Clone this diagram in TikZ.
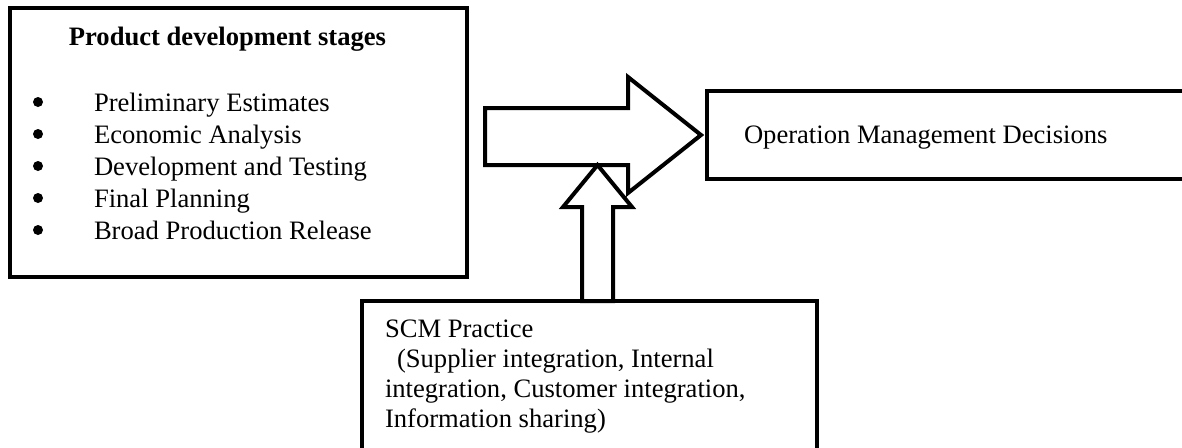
\documentclass[tikz,border=0pt]{standalone}
\usepackage{fontspec}
\setmainfont{Liberation Serif}
\usetikzlibrary{positioning}

\begin{document}
\begin{tikzpicture}[x=0.5pt,y=-0.5pt,line width=2pt,line join=miter,
  font=\fontsize{13.3}{16}\selectfont,
  box/.style={draw,rectangle,inner sep=0pt},
  txt/.style={anchor=base west,inner sep=0pt},
  bullet/.style={circle,fill,inner sep=0pt,minimum size=5pt},
  blockarrow/.style={draw,fill=white,line width=2pt}]
\useasboundingbox (0,0) rectangle (1182,447);
\clip (0,0) rectangle (1182,447);
% boxes
\node[box,minimum width=228.5pt,minimum height=134.5pt] (stages) at (238.5,142.5) {};
\node[box,minimum width=246.5pt,minimum height=44pt] (decisions) at (953.5,135) {};
\node[box,minimum width=227.5pt,minimum height=84.5pt] (scm) at (589.5,385.5) {};
% left box text
\node[anchor=base,inner sep=0pt,font=\fontsize{13.3}{16}\selectfont\bfseries] (title) at (227.5,45) {Product development stages};
\foreach \item [count=\i] in {Preliminary Estimates,Economic Analysis,Development and Testing,Final Planning,Broad Production Release}{
  \node[bullet] (dot\i) at (38,{70+32*\i}) {};
  \node[txt] (item\i) at (92,{79+32*\i}) {\item};
}
% right box text
\node[txt] (decisionstxt) at (742,143) {Operation Management Decisions};
% bottom box text
\node[txt] (scm1) at (383,337) {SCM Practice};
\node[txt] (scm2) at (395,367) {(Supplier integration, Internal};
\node[txt] (scm3) at (383,397) {integration, Customer integration,};
\node[txt] (scm4) at (383,427) {Information sharing)};
% block arrows
\coordinate (bigtail) at (485,136.5);
\coordinate (bigtip) at ([xshift=-2pt]decisions.west);
\draw[blockarrow] (bigtail) ++(0,-28.5) -- ++(143,0) -- ++(0,-31) -- (bigtip)
  -- (628,193) -- (628,165) -- (485,165) -- cycle;
\coordinate (smalltail) at (597.5,301);
\coordinate (smalltip) at (597.5,165);
\draw[blockarrow] (smalltail) ++(-15.5,0) -- ++(0,-94) -- ++(-19,0) -- (smalltip)
  -- (632,207) -- (613,207) -- (613,301) -- cycle;
\end{tikzpicture}
\end{document}
